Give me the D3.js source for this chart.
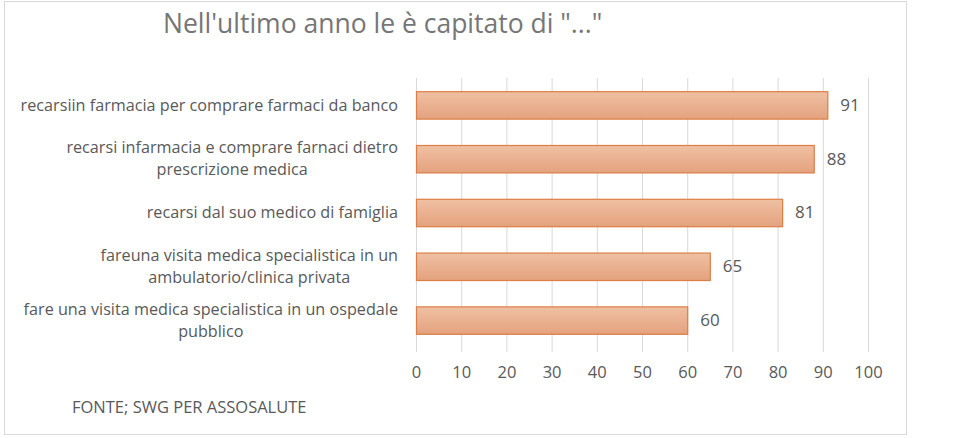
<html>
<head>
<script src="https://d3js.org/d3.v7.min.js"></script>
<style>
  body { margin: 0; background: #fff; }
  text { font-family: "Open Sans", "Liberation Sans", sans-serif; }
</style>
</head>
<body>
<script>
// chart data
var titleText = "Nell'ultimo anno le è capitato di \"...\"";
var sourceText = "FONTE; SWG PER ASSOSALUTE";
var categories = [
  ["recarsiin farmacia per comprare farmaci da banco"],
  ["recarsi infarmacia e comprare farnaci dietro", "prescrizione medica"],
  ["recarsi dal suo medico di famiglia"],
  ["fareuna visita medica specialistica in un", "ambulatorio/clinica privata"],
  ["fare una visita medica specialistica in un ospedale", "pubblico"]
];
var values = [91, 88, 81, 65, 60];
var xTicks = [0, 10, 20, 30, 40, 50, 60, 70, 80, 90, 100];

var svg = d3.select("body").append("svg").attr("width", 959).attr("height", 438);

// outer frame
svg.append("rect")
  .attr("x", 4.5).attr("y", 1.5).attr("width", 902).attr("height", 433)
  .attr("fill", "#fff").attr("stroke", "#d9d9d9");

var grad = svg.append("defs").append("linearGradient")
  .attr("id", "barGrad").attr("x1", 0).attr("y1", 0).attr("x2", 0).attr("y2", 1);
grad.append("stop").attr("offset", "0%").attr("stop-color", "#efc0a3");
grad.append("stop").attr("offset", "100%").attr("stop-color", "#e4a27e");

var x = d3.scaleLinear().domain([0, 100]).range([416, 868]);
var y = d3.scaleBand().domain(d3.range(values.length)).range([78, 347]).paddingInner(0.49).paddingOuter(0.245);

// gridlines
svg.append("g").selectAll("line")
  .data(xTicks).enter().append("line")
  .attr("x1", function(d) { return x(d) + 0.5; })
  .attr("x2", function(d) { return x(d) + 0.5; })
  .attr("y1", 78).attr("y2", 352)
  .attr("stroke", "#d9d9d9").attr("stroke-width", 1);

// x axis labels
var xAxis = svg.append("g")
  .attr("transform", "translate(0,352)")
  .call(d3.axisBottom(x).tickValues(xTicks).tickSize(0).tickPadding(14));
xAxis.select(".domain").remove();
xAxis.selectAll("text")
  .style("font-family", "'Open Sans', sans-serif")
  .style("font-size", "16.5px")
  .attr("fill", "#595959");

// bars
svg.append("g").selectAll("rect")
  .data(values).enter().append("rect")
  .attr("x", x(0) + 0.5)
  .attr("y", function(d, i) { return y(i) + 0.5; })
  .attr("width", function(d) { return x(d) - x(0); })
  .attr("height", y.bandwidth())
  .attr("fill", "url(#barGrad)")
  .attr("stroke", "#dc7e45").attr("stroke-width", 1.2);

// value labels
svg.append("g").selectAll("text")
  .data(values).enter().append("text")
  .attr("x", function(d) { return x(d) + 13; })
  .attr("y", function(d, i) { return y(i) + y.bandwidth() / 2; })
  .attr("dy", "0.35em")
  .style("font-size", "17px")
  .attr("fill", "#595959")
  .text(function(d) { return d; });

// category labels: block right-aligned, lines centered
var lineH = 22;
var labels = svg.append("g");
categories.forEach(function(lines, i) {
  var g = labels.append("g");
  var cy = y(i) + y.bandwidth() / 2;
  var texts = lines.map(function(s, k) {
    return g.append("text")
      .attr("y", cy + (k - (lines.length - 1) / 2) * lineH)
      .attr("dy", "0.35em")
      .attr("text-anchor", "middle")
      .style("font-size", "16.2px")
      .attr("fill", "#595959")
      .text(s);
  });
  var w = d3.max(texts, function(t) { return t.node().getComputedTextLength(); });
  texts.forEach(function(t) { t.attr("x", 398 - w / 2); });
});

// title
svg.append("text")
  .attr("x", 163).attr("y", 33)
  .style("font-size", "26.5px")
  .attr("fill", "#767676")
  .text(titleText);

// source note
svg.append("text")
  .attr("x", 72).attr("y", 413)
  .style("font-size", "16.5px")
  .attr("fill", "#595959")
  .text(sourceText);
</script>
</body>
</html>
